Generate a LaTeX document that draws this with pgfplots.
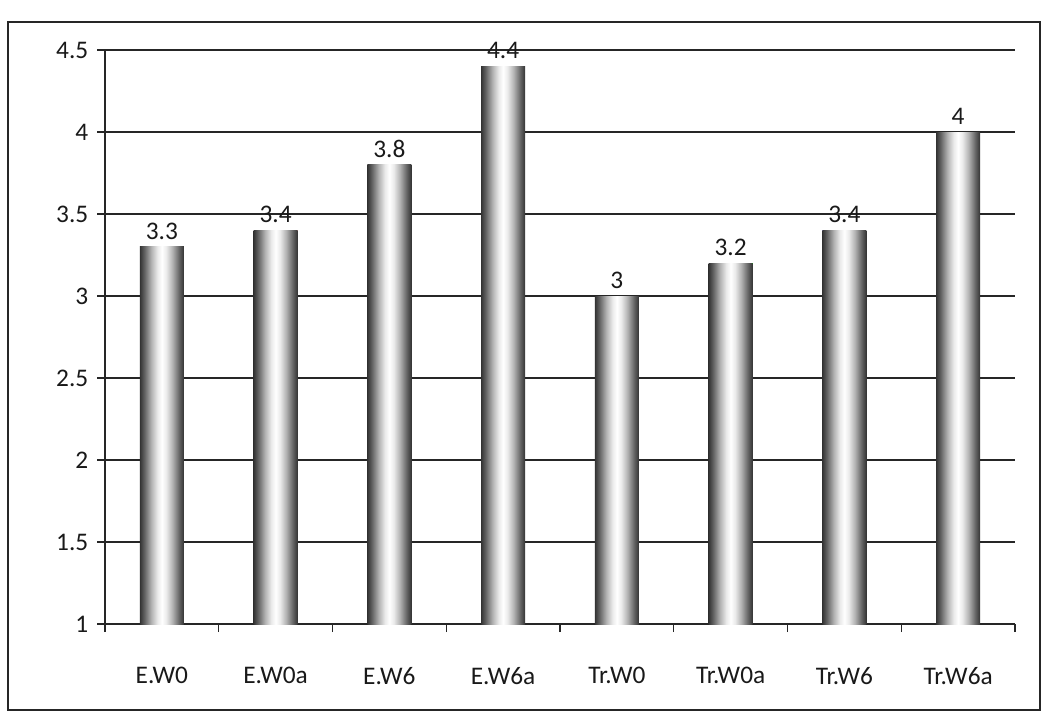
\documentclass[border=0pt]{standalone}
\usepackage{fontspec}
\setmainfont{Carlito}
\usepackage{pgfplots}
\pgfplotsset{compat=1.18}
\pgfdeclarehorizontalshading{cyl}{100bp}{color(0bp)=(black!80); color(25bp)=(black!80); color(30bp)=(black!62); color(38bp)=(black!30); color(45bp)=(black!8); color(50bp)=(white); color(55bp)=(black!8); color(62bp)=(black!30); color(70bp)=(black!62); color(75bp)=(black!80); color(100bp)=(black!80)}
\begin{document}
\begin{tikzpicture}
\useasboundingbox (-78.75pt,-71.25pt) rectangle (705.75pt,468pt);
\begin{axis}[
  at={(0,0)}, anchor=south west,
  width=682.5pt, height=430.5pt, scale only axis,
  xmin=-0.5, xmax=7.5, ymin=1, ymax=4.5,
  ytick={1,1.5,2,2.5,3,3.5,4,4.5},
  xtick={-0.5,0.5,...,7.5}, xticklabels={},
  extra x ticks={0,1,2,3,4,5,6,7},
  extra x tick labels={E.W0,E.W0a,E.W6,E.W6a,Tr.W0,Tr.W0a,Tr.W6,Tr.W6a},
  extra x tick style={major tick length=0pt, grid=none, tick style={draw=none}},
  axis x line*=bottom, axis y line*=left,
  axis line style={black!85, line width=1pt},
  ymajorgrids, grid style={black!85, line width=1pt},
  tick align=outside, major tick length=6pt,
  tick style={black!85, line width=1pt},
  /pgf/number format/assume math mode=true,
  ticklabel style={font=\fontsize{19}{21}\selectfont, text=black!90},
  yticklabel style={xshift=-3pt},
  xticklabel style={yshift=-29pt},
  clip mode=individual,
  ybar, bar width=33pt, bar shift=0pt,
  nodes near coords,
  nodes near coords style={font=\fontsize{19}{21}\selectfont, text=black!90, yshift=2pt},
  every axis plot/.append style={draw=none, shading=cyl},
]
\addplot coordinates {(0,3.3)};
\addplot coordinates {(1,3.4)};
\addplot coordinates {(2,3.8)};
\addplot coordinates {(3,4.4)};
\addplot coordinates {(4,3)};
\addplot coordinates {(5,3.2)};
\addplot coordinates {(6,3.4)};
\addplot coordinates {(7,4)};
\end{axis}
\draw[line width=1.2pt, black!85] (-72.75pt,-64.5pt) rectangle (701.25pt,451.5pt);
\end{tikzpicture}
\end{document}
